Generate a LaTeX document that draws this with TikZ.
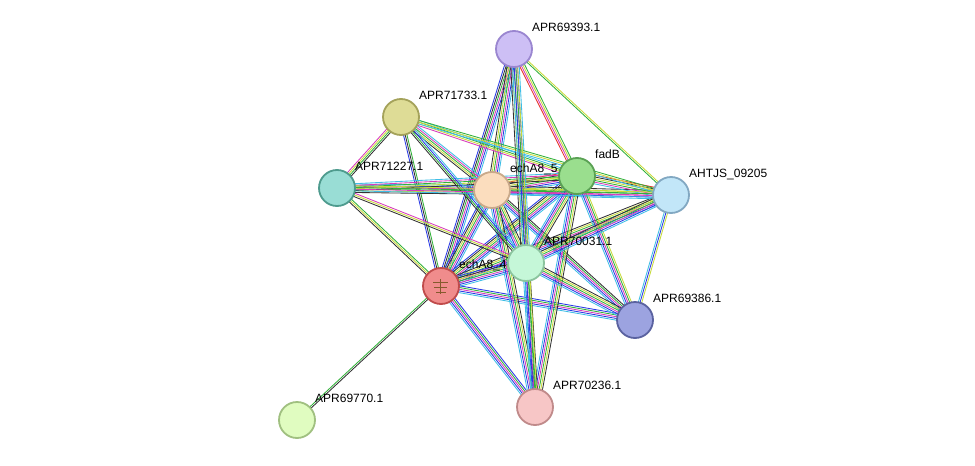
\documentclass[tikz,border=0pt]{standalone}
\usepackage{fontspec}
\setmainfont{Liberation Sans}
\usetikzlibrary{calc}
\definecolor{tm}{HTML}{C8DB3A}
\definecolor{co}{HTML}{333333}
\definecolor{db}{HTML}{3EBEE6}
\definecolor{ex}{HTML}{D83CBC}
\definecolor{nb}{HTML}{32B23A}
\definecolor{fu}{HTML}{E8302A}
\definecolor{cc}{HTML}{2A3AE6}
\definecolor{ho}{HTML}{9A7AD6}
\definecolor{f93}{HTML}{CDBFF5}\definecolor{d93}{HTML}{9A86D0}
\definecolor{f33}{HTML}{DEDC96}\definecolor{d33}{HTML}{A4A25A}
\definecolor{f27}{HTML}{99DDD5}\definecolor{d27}{HTML}{4E9B8E}
\definecolor{f5}{HTML}{FBDDBE}\definecolor{d5}{HTML}{C9A98A}
\definecolor{ffb}{HTML}{9ADE8E}\definecolor{dfb}{HTML}{5AA154}
\definecolor{fah}{HTML}{C2E6F8}\definecolor{dah}{HTML}{82A8C2}
\definecolor{f31}{HTML}{C5F7D8}\definecolor{d31}{HTML}{8BC49E}
\definecolor{f4}{HTML}{F08C8C}\definecolor{d4}{HTML}{C04B4B}
\definecolor{f86}{HTML}{9CA3E0}\definecolor{d86}{HTML}{5A62A0}
\definecolor{f36}{HTML}{F7C6C6}\definecolor{d36}{HTML}{C08A8A}
\definecolor{f70}{HTML}{E0FCC0}\definecolor{d70}{HTML}{A0C080}
\newcommand\edg[4]{\foreach \c [count=\i] in {#4}{\pgfmathsetmacro\off{(\i-(#3+1)/2)*1.7}\draw[\c,line width=0.85pt] ($(#1)!\off pt!90:(#2)$) -- ($(#2)!\off pt!-90:(#1)$);}}
\tikzset{prot/.style={circle,minimum size=36pt,inner sep=0pt,line width=1.8pt},
lab/.style={anchor=base west,font=\fontsize{12}{14}\selectfont,inner sep=0pt}}
\begin{document}
\begin{tikzpicture}[x=1pt,y=-1pt]
\fill[white] (0,0) rectangle (975,466);
\coordinate (a93) at (514,49);
\coordinate (a33) at (401,117);
\coordinate (a27) at (337,188);
\coordinate (e5) at (492,190);
\coordinate (fb) at (577,176);
\coordinate (ah) at (671,195);
\coordinate (a31) at (526,263);
\coordinate (e4) at (441,286);
\coordinate (a86) at (635,320);
\coordinate (a36) at (535,407);
\coordinate (a70) at (297,420);
% edges
\edg{e4}{a93}{6}{db,cc,ex,nb,co,cc}
\edg{e4}{a33}{3}{nb,co,cc}
\edg{e4}{a27}{3}{nb,tm,co}
\edg{e4}{e5}{7}{db,cc,ex,nb,tm,co,cc}
\edg{e4}{fb}{7}{db,cc,ex,nb,tm,co,cc}
\edg{e4}{ah}{6}{db,cc,ex,nb,tm,co}
\edg{e4}{a31}{7}{db,cc,ex,nb,tm,co,cc}
\edg{e4}{a86}{5}{db,cc,ex,nb,cc}
\edg{e4}{a36}{5}{db,cc,ex,nb,cc}
\edg{e4}{a70}{2}{nb,co}
\edg{e5}{a93}{6}{db,cc,ex,nb,tm,co}
\edg{e5}{a33}{5}{db,ex,nb,tm,co}
\edg{e5}{a27}{6}{db,cc,ex,nb,tm,co}
\edg{e5}{fb}{7}{db,cc,ex,nb,tm,co,fu}
\edg{e5}{ah}{6}{db,cc,ex,nb,tm,co}
\edg{e5}{a31}{6}{db,cc,ex,nb,tm,co}
\edg{e5}{a86}{5}{db,cc,ex,nb,co}
\edg{e5}{a36}{6}{db,cc,ex,nb,tm,co}
\edg{fb}{a93}{4}{nb,tm,ex,fu}
\edg{fb}{a33}{4}{db,nb,tm,ex}
\edg{fb}{a27}{5}{db,ex,nb,tm,co}
\edg{fb}{ah}{6}{db,ex,nb,tm,co,fu}
\edg{fb}{a31}{6}{db,cc,ex,nb,tm,co}
\edg{fb}{a86}{5}{db,cc,ex,nb,tm}
\edg{fb}{a36}{6}{db,cc,ex,nb,tm,co}
\edg{a31}{a93}{6}{db,cc,ex,nb,tm,co}
\edg{a31}{a33}{4}{db,cc,nb,co}
\edg{a31}{a27}{3}{ex,tm,co}
\edg{a31}{ah}{6}{db,cc,ex,nb,tm,co}
\edg{a31}{a86}{6}{db,cc,ex,nb,tm,co}
\edg{a31}{a36}{5}{db,cc,ex,nb,co}
\edg{a33}{a27}{4}{ex,tm,nb,co}
\edg{a33}{ah}{3}{db,tm,nb}
\edg{a27}{ah}{4}{db,ex,nb,tm}
\edg{ah}{a86}{3}{db,cc,tm}
\edg{ah}{a93}{2}{tm,nb}
\edg{a93}{a36}{4}{db,cc,nb,tm}
% nodes
\node[prot,fill=f93,draw=d93] (n93) at (a93) {};
\node[prot,fill=f33,draw=d33] (n33) at (a33) {};
\node[prot,fill=f27,draw=d27] (n27) at (a27) {};
\node[prot,fill=f5,draw=d5] (n5) at (e5) {};
\node[prot,fill=ffb,draw=dfb] (nfb) at (fb) {};
\node[prot,fill=fah,draw=dah] (nah) at (ah) {};
\node[prot,fill=f31,draw=d31] (n31) at (a31) {};
\node[prot,fill=f4,draw=d4] (n4) at (e4) {};
\node[prot,fill=f86,draw=d86] (n86) at (a86) {};
\node[prot,fill=f36,draw=d36] (n36) at (a36) {};
\node[prot,fill=f70,draw=d70] (n70) at (a70) {};
\draw[brown!70!black,line width=0.8pt] (433,282) -- (448,282) (434,287) -- (447,287) (436,292) -- (446,292) (440,279) -- (440,294);
% labels
\node[lab] at ($(a93)+(18,-18)$) {APR69393.1};
\node[lab] at ($(a33)+(18,-18)$) {APR71733.1};
\node[lab] at ($(a27)+(18,-18)$) {APR71227.1};
\node[lab] at ($(e5)+(18,-18)$) {echA8\_5};
\node[lab] at ($(fb)+(18,-18)$) {fadB};
\node[lab] at ($(ah)+(18,-18)$) {AHTJS\_09205};
\node[lab] at ($(a31)+(18,-18)$) {APR70031.1};
\node[lab] at ($(e4)+(18,-18)$) {echA8\_4};
\node[lab] at ($(a86)+(18,-18)$) {APR69386.1};
\node[lab] at ($(a36)+(18,-18)$) {APR70236.1};
\node[lab] at ($(a70)+(18,-18)$) {APR69770.1};
\end{tikzpicture}
\end{document}
